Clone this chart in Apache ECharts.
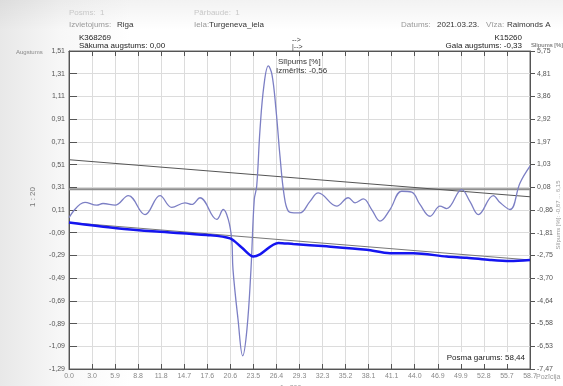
<!DOCTYPE html>
<html>
<head>
<meta charset="utf-8">
<script src="https://cdn.jsdelivr.net/npm/echarts@6/dist/echarts.min.js"></script>
<style>
  html, body { margin: 0; padding: 0; }
  body {
    width: 563px; height: 386px; overflow: hidden;
    background:
      linear-gradient(to bottom, rgba(0,0,0,0.05) 0, rgba(0,0,0,0) 30px),
      linear-gradient(to right, #e8e8e8 0, #f7f7f7 60px, #ffffff 130px);
  }
  #chart { width: 563px; height: 386px; }
</style>
</head>
<body>
<div id="chart"></div>
<script>
// x tick labels (position, m)
const xTicks = ['0.0', '3.0', '5.9', '8.8', '11.8', '14.7', '17.6', '20.6', '23.5', '26.4', '29.3',
                '32.3', '35.2', '38.1', '41.1', '44.0', '46.9', '49.9', '52.8', '55.7', '58.7'];
const xStep = 2.935;

// left axis (augstums) and right axis (slīpums %) tick values
const leftTicks = [1.51, 1.31, 1.11, 0.91, 0.71, 0.51, 0.31, 0.11, -0.09, -0.29, -0.49, -0.69, -0.89, -1.09, -1.29];
const rightTicks = [5.75, 4.81, 3.86, 2.92, 1.97, 1.03, 0.08, -0.86, -1.81, -2.75, -3.70, -4.64, -5.58, -6.53, -7.47];

// slope curve [%]
const slopePos = [0, 2.04, 3.53, 4.33, 5.86, 7.55, 9.68, 11.59, 13.08, 14.77, 15.62, 16.68, 18.81, 19.65,
                  20.28, 20.72, 20.88, 21.52, 22.12, 22.66, 23.17, 23.59, 23.90, 24.32, 24.83, 25.38, 25.85,
                  26.36, 26.87, 27.38, 27.92, 28.65, 29.41, 30.69, 31.74, 34.09, 35.56, 36.42, 37.47, 38.54,
                  39.60, 40.87, 42.36, 43.64, 44.69, 45.97, 47.24, 48.09, 50.00, 51.06, 52.12, 54.03, 54.88,
                  56.16, 57.43, 58.70];
const slopeVal = [-1.18, -0.54, -0.66, -0.59, -0.66, -0.26, -1.05, -0.26, -0.75, -0.56, -0.63, -0.35, -1.25, -0.84,
                  -1.25, -2.08, -3.33, -5.40, -6.92, -5.81, -3.33, -0.43, 0.13, 2.48, 4.34, 5.13, 4.76,
                  3.30, 1.36, -0.22, -0.91, -0.98, -0.98, -0.50, -0.15, -0.70, -0.35, -0.56, -0.40, -0.84,
                  -1.32, -0.84, -0.08, -0.12, -0.63, -1.12, -0.70, -0.80, -0.01, -0.51, -1.05, -0.26, -0.55,
                  -0.84, 0.26, 0.96];

// measured height profile
const heightPos = [0, 6.07, 11.17, 17.53, 20.50, 21.99, 23.47, 24.32, 26.65, 28.56, 32.81, 37.91, 40.87,
                   43.84, 48.09, 50.64, 53.61, 56.15, 58.70];
const heightVal = [0.00, -0.05, -0.08, -0.11, -0.14, -0.22, -0.30, -0.28, -0.18, -0.19, -0.21, -0.24, -0.27,
                   -0.27, -0.30, -0.31, -0.33, -0.34, -0.33];

// straight lines: start/end height chord, slope trend, zero slope
const endPos = [0, 58.7];
const chordVal = [0.00, -0.33];
const trendVal = [1.23, -0.31];
const zeroVal = [0, 0];

const pair = (xs, ys) => xs.map((x, i) => [x, ys[i]]);
const comma = v => v.toFixed(2).replace('.', ',');

const chart = echarts.init(document.getElementById('chart'));
const font = 'Liberation Sans, Arial, sans-serif';
const txt = (x, y, text, opt) => ({
  type: 'text', x: x, y: y, z: 100,
  style: Object.assign({text: text, fontFamily: font, fontSize: 8, fill: '#333', verticalAlign: 'middle'}, opt || {})
});

chart.setOption({
  animation: false,
  grid: {left: 69, right: 33, top: 51, bottom: 17, show: true, backgroundColor: '#fff', borderColor: '#666', borderWidth: 1},
  xAxis: [{
    type: 'value', min: 0, max: 58.7, interval: xStep,
    axisLine: {onZero: false, lineStyle: {color: '#555'}},
    axisTick: {inside: true, length: 5, lineStyle: {color: '#555'}},
    axisLabel: {margin: 4, fontSize: 7, color: '#888', fontFamily: font,
      formatter: v => xTicks[Math.round(v / xStep)]},
    splitLine: {show: true, lineStyle: {color: '#dcdcdc'}}
  }, {
    type: 'value', min: 0, max: 58.7, interval: xStep, position: 'top',
    axisLine: {onZero: false, lineStyle: {color: '#555'}},
    axisTick: {inside: true, length: 5, lineStyle: {color: '#555'}},
    axisLabel: {show: false}, splitLine: {show: false}
  }],
  yAxis: [{
    type: 'value', min: -1.29, max: 1.51, position: 'left',
    axisLine: {show: true, onZero: false, lineStyle: {color: '#555'}},
    axisTick: {show: true, inside: true, length: 8, customValues: leftTicks, lineStyle: {color: '#555'}},
    axisLabel: {margin: 4, fontSize: 7, color: '#555', fontFamily: font, customValues: leftTicks, formatter: comma},
    splitLine: {show: false}
  }, {
    type: 'value', min: -7.47, max: 5.75, position: 'right',
    axisLine: {show: true, onZero: false, lineStyle: {color: '#555'}},
    axisTick: {show: true, length: 5, customValues: rightTicks, lineStyle: {color: '#555'}},
    axisLabel: {margin: 7, fontSize: 7, color: '#555', fontFamily: font, customValues: rightTicks, formatter: comma},
    splitLine: {show: false}
  }, {
    type: 'value', min: 0, max: 14, interval: 1, position: 'left',
    axisLine: {show: false}, axisTick: {show: false}, axisLabel: {show: false},
    splitLine: {show: true, lineStyle: {color: '#dcdcdc'}}
  }],
  series: [{
    type: 'line', yAxisIndex: 1, data: pair(endPos, zeroVal), symbol: 'none', silent: true,
    lineStyle: {color: '#8e8e8e', width: 2}
  }, {
    type: 'line', yAxisIndex: 1, data: pair(endPos, trendVal), symbol: 'none', silent: true,
    lineStyle: {color: '#555', width: 1}
  }, {
    type: 'line', yAxisIndex: 0, data: pair(endPos, chordVal), symbol: 'none', silent: true,
    lineStyle: {color: '#777', width: 1}
  }, {
    type: 'line', yAxisIndex: 1, data: pair(slopePos, slopeVal), symbol: 'none', smooth: 0.4,
    lineStyle: {color: '#7c7fc4', width: 1.3}
  }, {
    type: 'line', yAxisIndex: 0, data: pair(heightPos, heightVal), symbol: 'none', smooth: 0.3,
    lineStyle: {color: '#1515f0', width: 2.5}
  }],
  graphic: [
    txt(69, 13, 'Posms:  1', {fill: '#c8c8c8'}),
    txt(194, 13, 'Pārbaude:  1', {fill: '#c8c8c8'}),
    txt(69, 25, 'Izvietojums:', {fill: '#999'}),
    txt(117, 25, 'Riga', {fill: '#333'}),
    txt(194, 25, 'Iela:', {fill: '#999'}),
    txt(209, 25, 'Turgeneva_iela', {fill: '#333'}),
    txt(401, 25, 'Datums:', {fill: '#999'}),
    txt(437, 25, '2021.03.23.', {fill: '#333'}),
    txt(486, 25, 'Vīza:', {fill: '#999'}),
    txt(507, 25, 'Raimonds A', {fill: '#333'}),
    txt(79, 38, 'K368269', {fill: '#222'}),
    txt(79, 46, 'Sākuma augstums: 0,00', {fill: '#222'}),
    txt(522, 38, 'K15260', {fill: '#222', align: 'right'}),
    txt(522, 46, 'Gala augstums: -0,33', {fill: '#222', align: 'right'}),
    txt(292, 40, '-->', {fill: '#333', fontSize: 7}),
    txt(292, 47, '|-->', {fill: '#333', fontSize: 7}),
    txt(16, 52, 'Augstums', {fill: '#888', fontSize: 6}),
    txt(531, 45, 'Slīpums [%]', {fill: '#555', fontSize: 6}),
    txt(278, 62, 'Slīpums [%]', {fill: '#333'}),
    txt(276, 71, 'Izmērīts: -0,56', {fill: '#333'}),
    txt(527, 358, 'Posma garums: 58,44', {fill: '#222', align: 'right', backgroundColor: '#fff', padding: [2, 2, 2, 3]}),
    txt(536, 377, 'Pozīcija', {fill: '#999', fontSize: 7}),
    txt(280, 388, '1 : 200', {fill: '#999', fontSize: 7}),
    {type: 'text', x: 33, y: 197, z: 100, rotation: Math.PI / 2,
     style: {text: '1 : 20', fontFamily: font, fontSize: 8, fill: '#777', align: 'center', verticalAlign: 'middle'}},
    {type: 'text', x: 558, y: 215, z: 100, rotation: Math.PI / 2,
     style: {text: 'Slīpums [%]: -0,87 ... 6,15', fontFamily: font, fontSize: 6, fill: '#999', align: 'center', verticalAlign: 'middle'}}
  ]
});
</script>
</body>
</html>
